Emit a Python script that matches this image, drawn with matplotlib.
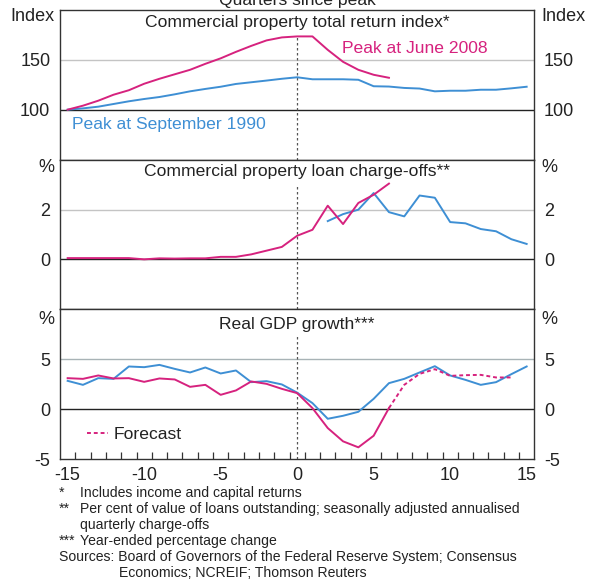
import numpy as np
import matplotlib
matplotlib.use("Agg")
import matplotlib.pyplot as plt
from matplotlib.ticker import FixedLocator

# -- Data --
quarters = np.arange(-15, 16)
q_2008 = np.arange(-15, 7)

index_1990 = [100, 101.3, 103, 105.7, 108.4, 110.7, 112.7, 115.4, 118.4, 120.8, 123, 125.8, 127.5, 129.2, 131, 132.5,
              130.5, 130.5, 130.5, 130, 123.5, 123.2, 121.8, 121.2, 118.4, 119, 119, 120, 120, 121.4, 123]
index_2008 = [100, 104, 109, 115, 119.5, 126, 131, 135.5, 140, 146, 151.5, 158, 164, 169.5, 172.5, 173.5,
              173.5, 160, 148, 140, 135, 132]

q_charge_1990 = np.arange(2, 16)
charge_1990 = [1.54, 1.82, 2.0, 2.67, 1.9, 1.73, 2.57, 2.48, 1.5, 1.45, 1.22, 1.13, 0.81, 0.62]
charge_2008 = [0.05, 0.05, 0.05, 0.05, 0.05, 0.0, 0.04, 0.03, 0.04, 0.04, 0.1, 0.1, 0.2, 0.35, 0.5, 0.95,
               1.19, 2.16, 1.42, 2.27, 2.6, 3.05]

gdp_1990 = [2.83, 2.43, 3.1, 3.03, 4.27, 4.2, 4.43, 4.03, 3.67, 4.17, 3.57, 3.87, 2.7, 2.8, 2.47, 1.65,
            0.6, -0.97, -0.67, -0.27, 1.03, 2.6, 3.03, 3.67, 4.3, 3.37, 2.93, 2.43, 2.7, 3.5, 4.27]
gdp_2008 = [3.1, 3.03, 3.37, 3.07, 3.1, 2.73, 3.07, 2.97, 2.23, 2.43, 1.43, 1.87, 2.77, 2.53, 2.03, 1.6,
            0.1, -1.9, -3.23, -3.83, -2.67, 0.1]
q_forecast = np.arange(6, 15)
gdp_forecast = [0.1, 2.43, 3.53, 4.0, 3.33, 3.4, 3.43, 3.17, 3.17]

x_ticks = [-15, -10, -5, 0, 5, 10, 15]

footnotes = [
    ("*", "Includes income and capital returns"),
    ("**", "Per cent of value of loans outstanding; seasonally adjusted annualised"),
    ("", "quarterly charge-offs"),
    ("***", "Year-ended percentage change"),
]
sources = ["Sources: Board of Governors of the Federal Reserve System; Consensus",
           "Economics; NCREIF; Thomson Reuters"]

# -- Style --
plt.rcParams['font.family'] = ['Liberation Sans', 'DejaVu Sans']
plt.rcParams['axes.unicode_minus'] = False
MAGENTA = '#d6227e'
BLUE = '#3e8fd4'
TEXT = '#222222'
FRAME = '#333333'
FS = 12.6

W, H = 595, 581
fig = plt.figure(figsize=(W / 100, H / 100), dpi=100)

def fx(px):
    return px / W

def fy(py):
    return 1 - py / H

left, right = 60, 534.3
panels = [(10, 159.5), (160, 309), (309.3, 459)]
axes = []
for top, bottom in panels:
    ax = fig.add_axes([fx(left), fy(bottom), fx(right - left), (bottom - top) / H])
    axes.append(ax)

# title, ylim, yticks, base line, grid line, unit, grid colour, title y, unit y
setup = [
    ("Commercial property total return index*", (50, 200), [100, 150], 100, 150, "Index", '#c4c4c4', 0.915, 0.955),
    ("Commercial property loan charge-offs**", (-2, 4), [0, 2], 0, 2, "%", '#c4c4c4', 0.926, 0.95),
    ("Real GDP growth***", (-5, 10), [-5, 0, 5], 0, 5, "%", '#a8b3b6', 0.90, 0.93),
]

for ax, (title, ylim, yticks, base, grid, unit, gcol, ty, uy) in zip(axes, setup):
    ax.set_xlim(-15.5, 15.5)
    ax.set_ylim(*ylim)
    ax.set_yticks(yticks)
    ax.tick_params(axis='y', length=0, pad=7, labelsize=13, labelcolor=TEXT,
                   labelleft=True, labelright=True)
    ax.set_xticks(x_ticks)
    ax.tick_params(axis='x', length=0, labelbottom=False)
    for s in ax.spines.values():
        s.set_color(FRAME)
        s.set_linewidth(1.0)
    ax.axhline(grid, color=gcol, lw=1.0, zorder=1)
    ax.axhline(base, color='#222222', lw=1.0, zorder=1)
    ax.axvline(0, ymax=0.83, color='#555555', lw=0.9, ls=(0, (2, 2)), zorder=2)
    ax.text(0.5, ty, title, transform=ax.transAxes, ha='center', va='center',
            fontsize=FS, color=TEXT)
    ax.text(-0.012, uy, unit, transform=ax.transAxes, ha='right', va='center',
            fontsize=13, color=TEXT)
    ax.text(1.015, uy, unit, transform=ax.transAxes, ha='left', va='center',
            fontsize=13, color=TEXT)

ax1, ax2, ax3 = axes

# -- Total return index --
ax1.plot(quarters, index_1990, color=BLUE, lw=1.4, zorder=3)
ax1.plot(q_2008, index_2008, color=MAGENTA, lw=1.4, zorder=3)
ax1.text(2.9, 161, "Peak at June 2008", color=MAGENTA, fontsize=FS, va='center')
ax1.text(-14.7, 85.6, "Peak at September 1990", color=BLUE, fontsize=FS, va='center')

# -- Charge-offs --
ax2.plot(q_charge_1990, charge_1990, color=BLUE, lw=1.4, zorder=3)
ax2.plot(q_2008, charge_2008, color=MAGENTA, lw=1.4, zorder=3)

# -- GDP --
ax3.plot(quarters, gdp_1990, color=BLUE, lw=1.4, zorder=3)
ax3.plot(q_2008, gdp_2008, color=MAGENTA, lw=1.4, zorder=3)
ax3.plot(q_forecast, gdp_forecast, color=MAGENTA, lw=1.4, ls=(0, (2, 1.5)), zorder=3,
         label="Forecast")
leg = ax3.legend(loc='center left', bbox_to_anchor=(0.056, 0.167), frameon=False,
                 borderpad=0, borderaxespad=0, handlelength=1.25, handletextpad=0.3,
                 fontsize=FS)
for t in leg.get_texts():
    t.set_color(TEXT)

ax3.tick_params(axis='x', labelbottom=True, labelsize=13, labelcolor=TEXT, pad=6)
ax3.xaxis.set_minor_locator(FixedLocator(np.arange(-14.5, 15, 1)))
ax3.tick_params(axis='x', which='minor', direction='in', length=5, width=0.9,
                color=FRAME, top=False)

# -- Header and footnotes --
fig.text(fx(297), fy(5), "Quarters since peak", ha='center', va='baseline',
         fontsize=FS, color=TEXT)

FN = 10.1
ys = [493, 509, 525, 541]
for (mark, txt), y in zip(footnotes, ys):
    fig.text(fx(59), fy(y), mark, ha='left', va='center', fontsize=FN, color=TEXT)
    fig.text(fx(80), fy(y), txt, ha='left', va='center', fontsize=FN, color=TEXT)
fig.text(fx(59), fy(557), sources[0], ha='left', va='center', fontsize=FN, color=TEXT)
fig.text(fx(119), fy(573), sources[1], ha='left', va='center', fontsize=FN, color=TEXT)

fig.savefig("out.png", dpi=100)
